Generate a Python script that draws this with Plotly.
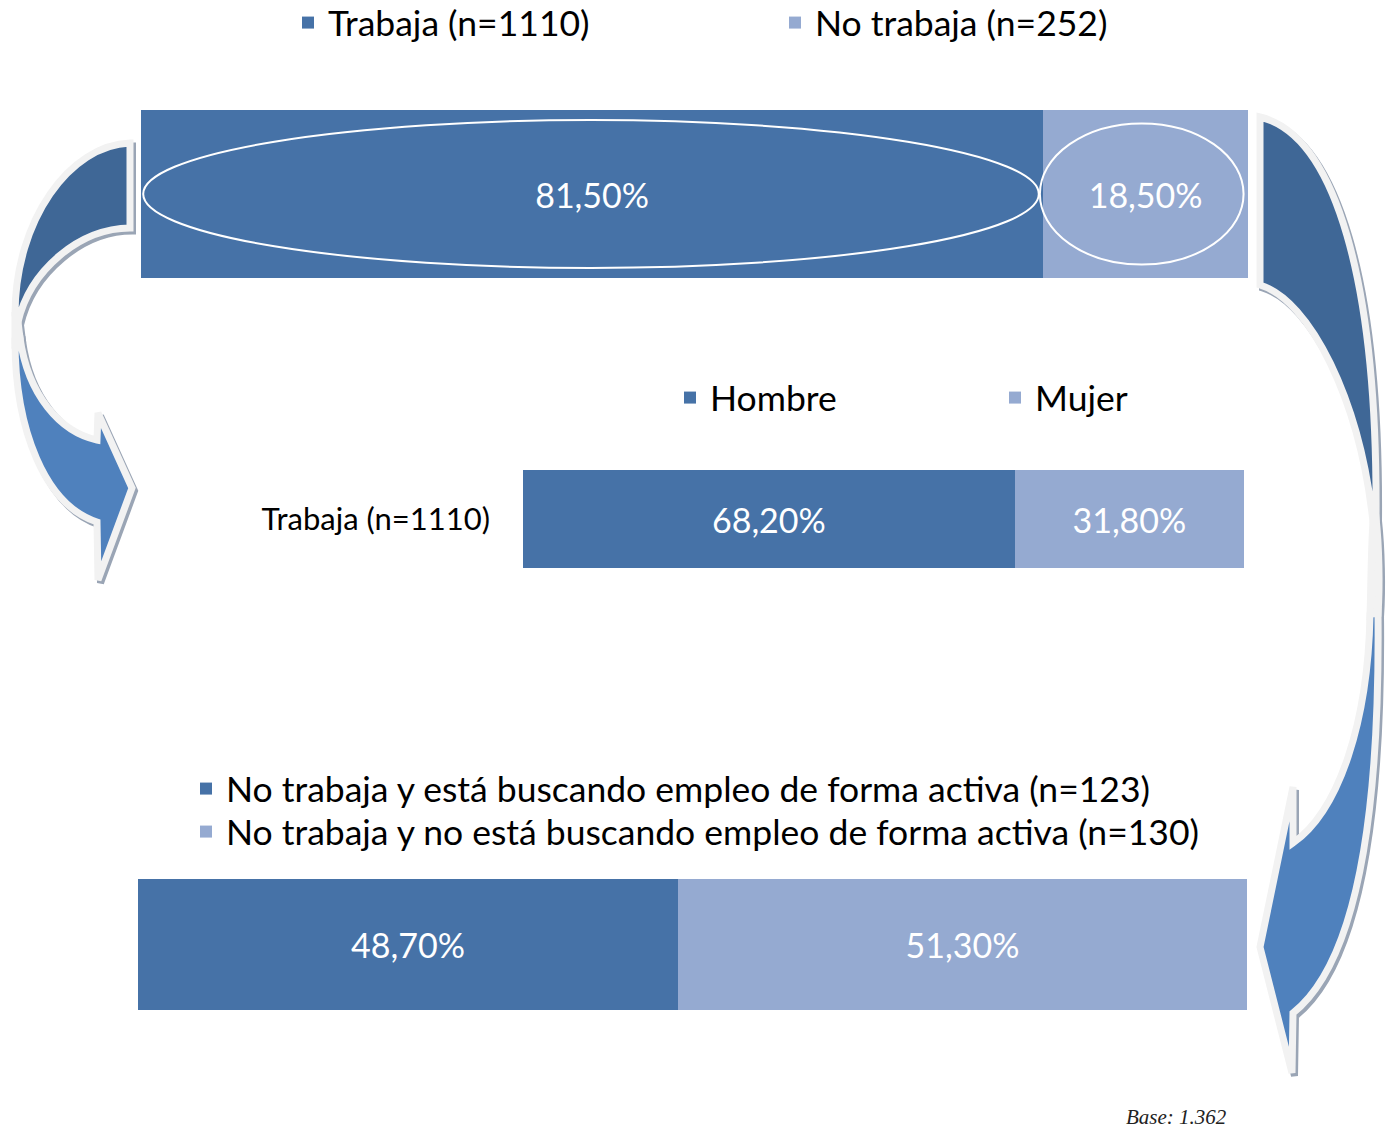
import plotly.graph_objects as go

W, H = 1395, 1135
FONT = "Lato, 'Open Sans', sans-serif"

# ---------------- data ----------------
top_category = "Total"
top_labels = ["Trabaja (n=1110)", "No trabaja (n=252)"]
top_values = [81.5, 18.5]

sex_category = "Trabaja (n=1110)"
sex_labels = ["Hombre", "Mujer"]
sex_values = [68.2, 31.8]

search_category = "No trabaja (n=252)"
search_labels = [
    "No trabaja y está buscando empleo de forma activa (n=123)",
    "No trabaja y no está buscando empleo de forma activa (n=130)",
]
search_values = [48.7, 51.3]

base_note = "Base: 1.362"

colors = ["#4672A7", "#95AAD1"]


# ---------------- helpers (pixel -> paper) ----------------
def fx(x):
    return x / W


def fy(y):
    return 1 - y / H


def xd(a, b):
    return [fx(a), fx(b)]


def yd(top, bottom):
    return [fy(bottom), fy(top)]


def P(x, y):
    return f"{fx(x):.5f},{fy(y):.5f}"


fig = go.Figure()

groups = [
    (top_category, top_labels, top_values, "x", "y", ["legend", "legend2"]),
    (sex_category, sex_labels, sex_values, "x2", "y2", ["legend3", "legend4"]),
    (search_category, search_labels, search_values, "x3", "y3", ["legend5", "legend6"]),
]

for cat, labels, values, xa, ya, legs in groups:
    for i, (lab, val) in enumerate(zip(labels, values)):
        fig.add_trace(
            go.Bar(
                y=[cat],
                x=[val],
                orientation="h",
                name=lab,
                marker=dict(color=colors[i], line=dict(width=0)),
                width=1,
                xaxis=xa,
                yaxis=ya,
                legend=legs[i],
                texttemplate="%{x:.2f}%",
                textposition="inside",
                insidetextanchor="middle",
                constraintext="none",
                textfont=dict(family=FONT, size=34, color="white"),
                hoverinfo="name+x",
            )
        )

layout_axes = dict(
    xaxis=dict(domain=xd(141, 1248), range=[0, 100], visible=False, anchor="y"),
    yaxis=dict(domain=yd(110, 278), range=[-0.5, 0.5], visible=False, anchor="x"),
    xaxis2=dict(domain=xd(523, 1244), range=[0, 100], visible=False, anchor="y2"),
    yaxis2=dict(
        domain=yd(470, 568), range=[-0.5, 0.5], anchor="x2",
        showline=False, showgrid=False, zeroline=False, ticks="",
        tickfont=dict(family=FONT, size=31, color="#000000"),
        ticklabelstandoff=32,
    ),
    xaxis3=dict(domain=xd(138, 1247), range=[0, 100], visible=False, anchor="y3"),
    yaxis3=dict(domain=yd(879, 1010), range=[-0.5, 0.5], visible=False, anchor="x3"),
)

leg_common = dict(
    font=dict(family=FONT, size=35.5, color="#000000"),
    bgcolor="rgba(0,0,0,0)",
    xanchor="left",
    yanchor="middle",
    traceorder="normal",
    orientation="v",
    itemclick=False,
    itemdoubleclick=False,
)

legends = dict(
    legend=dict(x=fx(288), y=fy(23), **leg_common),
    legend2=dict(x=fx(775), y=fy(23), **leg_common),
    legend3=dict(x=fx(670), y=fy(398), **leg_common),
    legend4=dict(x=fx(995), y=fy(398), **leg_common),
    legend5=dict(x=fx(186), y=fy(789), **leg_common),
    legend6=dict(x=fx(186), y=fy(832), **leg_common),
)

# ---------------- decorative arrows ----------------
dark_arrow = "#3F6796"
light_arrow = "#4F81BD"
outline = "#F2F2F2"
shadow = "#9AA5B5"

left_dark = [(130, 143), "C", (70, 145), (15, 220), (15, 315), "L", (18, 322),
             "C", (30, 270), (80, 228), (130, 228)]
left_light = [(15, 340), "C", (15, 430), (45, 505), (97, 522), "L", (98, 580),
              "L", (132, 488), "L", (98, 413), "L", (97, 440),
              "C", (60, 432), (28, 395), (20, 338)]
left_bridge = [(15, 312), "L", (15, 342), "L", (20, 338), "L", (18, 322)]
right_dark = [(1260, 117), "C", (1335, 135), (1378, 280), (1376, 520), "L", (1373, 522),
              "C", (1360, 400), (1310, 300), (1260, 285)]
right_light = [(1378, 612), "C", (1380, 800), (1360, 960), (1293, 1013), "L", (1292, 1073),
               "L", (1260, 947), "L", (1293, 787), "L", (1293, 843),
               "C", (1340, 810), (1368, 720), (1370, 615)]
right_bridge = [(1376, 518), "C", (1379, 545), (1380, 585), (1378, 614), "L", (1370, 616),
                "C", (1371, 585), (1371, 550), (1373, 522)]


def build_path(spec, dx=0, dy=0):
    parts = []
    first = True
    for item in spec:
        if isinstance(item, str):
            parts.append(item)
        else:
            if first:
                parts.append("M")
                first = False
            parts.append(P(item[0] + dx, item[1] + dy))
    parts.append("Z")
    return " ".join(parts)


pieces = [(left_bridge, outline), (right_bridge, outline),
          (left_dark, dark_arrow), (left_light, light_arrow),
          (right_dark, dark_arrow), (right_light, light_arrow)]

shapes = []
for spec, col in pieces:
    shapes.append(dict(type="path", xref="paper", yref="paper",
                       path=build_path(spec, 2.5, 3), fillcolor=shadow,
                       line=dict(color=shadow, width=7), layer="above"))
for spec, col in pieces:
    shapes.append(dict(type="path", xref="paper", yref="paper",
                       path=build_path(spec), fillcolor=col,
                       line=dict(color=outline, width=7), layer="above"))

# ellipses highlighting the top bar segments
shapes.append(dict(type="circle", xref="x", yref="y",
                   x0=0.2, x1=top_values[0] - 0.4, y0=-0.44, y1=0.44,
                   line=dict(color="white", width=2), fillcolor="rgba(0,0,0,0)"))
shapes.append(dict(type="circle", xref="x", yref="y",
                   x0=top_values[0] - 0.3, x1=100 - 0.4, y0=-0.42, y1=0.42,
                   line=dict(color="white", width=2), fillcolor="rgba(0,0,0,0)"))

annotations = [
    dict(text=base_note, xref="paper", yref="paper", x=fx(1228), y=fy(1117),
         xanchor="right", yanchor="middle", showarrow=False, borderpad=0,
         font=dict(family="'Liberation Serif', 'DejaVu Serif', serif", size=21,
                   color="#222222", style="italic")),
]

fig.update_layout(
    width=W,
    height=H,
    margin=dict(l=0, r=0, t=0, b=0, autoexpand=False),
    paper_bgcolor="white",
    plot_bgcolor="rgba(0,0,0,0)",
    barmode="stack",
    separators=",.",
    showlegend=True,
    shapes=shapes,
    annotations=annotations,
    **layout_axes,
    **legends,
)

fig.write_html(
    "out.html",
    config={"displayModeBar": False},
    post_script="document.body.style.margin='0';"
                "document.documentElement.style.overflow='hidden';",
)
